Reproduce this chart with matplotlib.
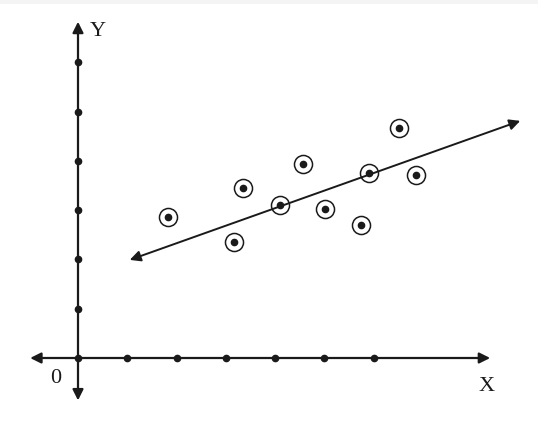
import matplotlib.pyplot as plt
import numpy as np

# scatter points (data units)
px = [1.83, 3.16, 3.35, 4.10, 4.56, 5.01, 5.74, 5.90, 6.51, 6.86]
py = [2.86, 2.35, 3.45, 3.10, 3.94, 3.02, 2.70, 3.75, 4.67, 3.71]

# fitted line end points
line_x = [1.05, 8.97]
line_y = [1.99, 4.81]

# tick positions on the axes
xticks = [0, 1, 2, 3, 4, 5, 6]
yticks = [1, 2, 3, 4, 5, 6]

plt.rcParams['font.family'] = ['Liberation Serif', 'DejaVu Serif']

fig = plt.figure(figsize=(5.38, 4.31), dpi=100)

# faint grey strip along the top edge
fig.patches.append(plt.Rectangle((0, 1 - 5 / 431), 1, 5 / 431, transform=fig.transFigure,
                                 color='#f4f4f4', lw=0, zorder=0))

ax = fig.add_axes([0, 0, 1, 1])
ax.set_xlim(-78 / 49.3, (538 - 78) / 49.3)
ax.set_ylim((359 - 431) / 49.3, 359 / 49.3)
ax.axis('off')

arrow = dict(arrowstyle='<|-|>', color='#1a1a1a', lw=1.6, mutation_scale=16,
             shrinkA=0, shrinkB=0)

# axes
ax.annotate('', xy=(8.36, 0), xytext=(-0.97, 0), arrowprops=arrow)
ax.annotate('', xy=(0, 6.82), xytext=(0, -0.86), arrowprops=arrow)

# regression line
ax.annotate('', xy=(line_x[1], line_y[1]), xytext=(line_x[0], line_y[0]),
            arrowprops=dict(arrow, lw=1.4))

# tick dots
ax.plot(xticks, np.zeros(len(xticks)), 'o', color='#1a1a1a', ms=4.5)
ax.plot(np.zeros(len(yticks)), yticks, 'o', color='#1a1a1a', ms=4.5)

# circled points
ax.plot(px, py, 'o', mfc='none', mec='#1a1a1a', mew=1.1, ms=13)
ax.plot(px, py, 'o', color='#1a1a1a', ms=4.5)

ax.text(0.41, 6.65, 'Y', fontsize=16, ha='center', va='center', color='#1a1a1a')
ax.text(8.28, -0.55, 'X', fontsize=16, ha='center', va='center', color='#1a1a1a')
ax.text(-0.45, -0.40, '0', fontsize=16, ha='center', va='center', color='#1a1a1a')

fig.savefig('out.png', dpi=100)
